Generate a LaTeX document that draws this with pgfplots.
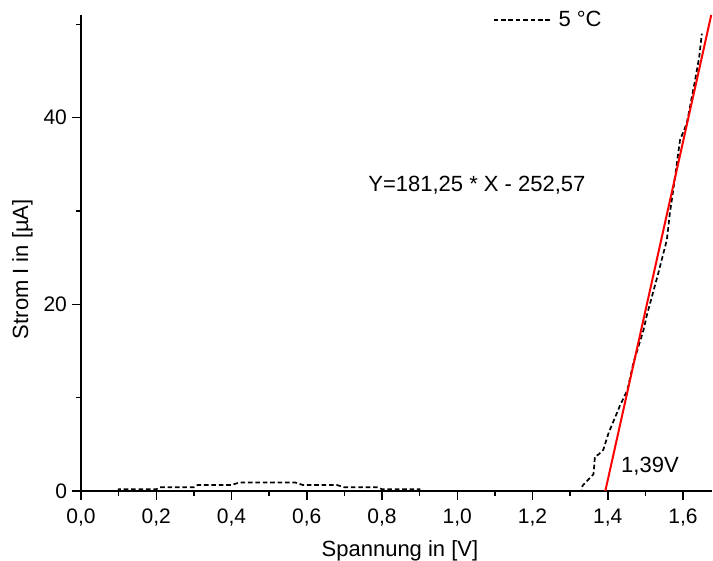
\documentclass[border=0pt]{standalone}
\usepackage{fontspec}
\setmainfont{Liberation Sans}
\usepackage{pgfplots}
\pgfplotsset{compat=1.18}

% measured curve, 5 degC
\pgfplotstableread{
x y
0.000 0
0.100 0
0.100 0.18
0.200 0.18
0.210 0.40
0.300 0.40
0.310 0.64
0.400 0.64
0.420 0.90
0.570 0.90
0.590 0.64
0.680 0.64
0.700 0.40
0.790 0.40
0.800 0.18
0.900 0.18
0.900 0
1.330 0
1.333 0.57
1.362 1.8
1.366 3.7
1.375 3.9
1.388 4.4
1.402 6.2
1.433 9.2
1.452 10.8
1.468 13.7
1.495 17.25
1.503 18.7
1.534 23.3
1.541 24.4
1.557 26.9
1.565 29.75
1.574 32.25
1.592 37.6
1.610 39.4
1.632 44.0
1.643 46.5
1.650 49.0
}\messung

\begin{document}
\begin{tikzpicture}
\useasboundingbox (-40.5pt,-35pt) rectangle (316pt,245.5pt);
\begin{axis}[
  scale only axis,
  width=315.5pt, height=238pt,
  xmin=0, xmax=1.677, ymin=0, ymax=51,
  axis x line=bottom, axis y line=left,
  axis line style={-, line width=0.75pt},
  tick align=outside,
  major tick length=4.5pt, minor tick length=2.5pt,
  every tick/.style={black, line width=0.75pt},
  xtick={0,0.2,0.4,0.6,0.8,1.0,1.2,1.4,1.6},
  minor xtick={0.1,0.3,0.5,0.7,0.9,1.1,1.3,1.5},
  ytick={0,20,40}, minor ytick={10,30,50},
  /pgf/number format/assume math mode=true,
  xticklabel style={yshift=-1pt, /pgf/number format/.cd,fixed,fixed zerofill,precision=1,use comma},
  yticklabel style={xshift=1pt},
  tick label style={font=\fontsize{10.5}{12}\selectfont},
  label style={font=\fontsize{11}{13}\selectfont},
  xlabel={Spannung in [V]},
  ylabel={Strom I in [µA]},
  xlabel style={anchor=base, at={(axis description cs:0.5055,-0.138)}},
  ylabel style={rotate=0, anchor=center, at={(axis description cs:-0.0927,0.466)}},
  legend style={draw=none, fill=none, at={(axis description cs:0.652,0.989)}, anchor=west,
    font=\fontsize{11}{13}\selectfont, inner sep=0pt,
    nodes={inner xsep=3pt}},
  legend image code/.code={\draw[#1] (0pt,0pt) -- (29pt,0pt);},
]
  \addplot[black, line width=0.85pt, dash pattern=on 2.3pt off 1.4pt] table[x=x,y=y] {\messung};
  \addlegendentry{5 °C}
  \addplot[red, line width=1pt, forget plot] coordinates {(1.3935,0) (1.675,51)};
  \node[anchor=west, font=\fontsize{11}{13}\selectfont] at (axis cs:0.745,32.8) {Y=181,25 * X - 252,57};
  \node[anchor=west, font=\fontsize{11}{13}\selectfont] at (axis cs:1.417,2.7) {1,39V};
\end{axis}
\end{tikzpicture}
\end{document}
